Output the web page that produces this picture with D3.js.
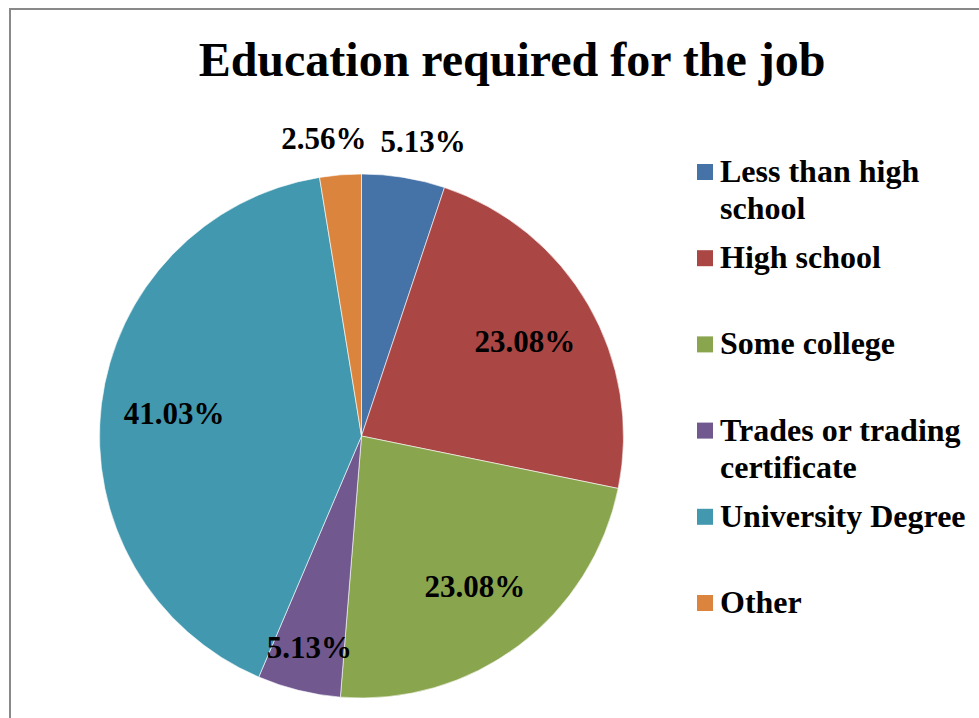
<!DOCTYPE html>
<html>
<head>
<meta charset="utf-8">
<script src="https://cdn.jsdelivr.net/npm/d3@7"></script>
<style>
  html, body { margin: 0; padding: 0; background: #fff; }
  svg { display: block; }
  text { font-family: "Liberation Serif", "Times New Roman", serif; font-weight: bold; fill: #000; }
</style>
</head>
<body>
<svg id="chart" width="979" height="718"></svg>
<script>
// Education required for the job — share of responses per category
const categories = [
  "Less than high school",
  "High school",
  "Some college",
  "Trades or trading certificate",
  "University Degree",
  "Other"
];
const shares = [5.13, 23.08, 23.08, 5.13, 41.03, 2.56];
const sliceColors = ["#4572A7", "#AA4643", "#89A54E", "#71588F", "#4198AF", "#DB843D"];
const chartTitle = "Education required for the job";

const W = 979, H = 718;
const svg = d3.select("#chart");

// Chart area frame (runs off the right and bottom of the view)
svg.append("rect")
  .attr("x", 10).attr("y", 9)
  .attr("width", W + 20).attr("height", H + 20)
  .attr("fill", "#fff")
  .attr("stroke", "#898989")
  .attr("stroke-width", 2);

// Title
svg.append("text")
  .attr("x", 512).attr("y", 76)
  .attr("text-anchor", "middle")
  .style("font-size", "48px")
  .text(chartTitle);

// Pie
const cx = 361.5, cy = 436, radius = 262;
const color = d3.scaleOrdinal().domain(categories).range(sliceColors);
const rows = categories.map((c, i) => ({ category: c, value: shares[i] }));

const pie = d3.pie().sort(null).value(d => d.value).startAngle(0).endAngle(2 * Math.PI);
const arcs = pie(rows);
const arc = d3.arc().innerRadius(0).outerRadius(radius);

const g = svg.append("g").attr("transform", `translate(${cx},${cy})`);

g.selectAll("path.slice")
  .data(arcs)
  .join("path")
  .attr("class", "slice")
  .attr("d", arc)
  .attr("fill", d => color(d.data.category))
  .attr("stroke", "#fff")
  .attr("stroke-opacity", 0.6)
  .attr("stroke-width", 1);

// Best-fit data labels: large slices inside, small upper slices outside,
// small lower slices near the inner edge of the rim
function isOutside(d) {
  const mid = (d.startAngle + d.endAngle) / 2;
  return d.data.value < 10 && Math.cos(mid) > 0;
}
function labelRadius(d) {
  if (d.data.value >= 10) return radius * 0.72;
  return isOutside(d) ? radius * 1.14 : radius * 0.83;
}
const fmt = v => v.toFixed(2) + "%";

const labels = g.selectAll("text.value")
  .data(arcs)
  .join("text")
  .attr("class", "value")
  .attr("text-anchor", "middle")
  .attr("dominant-baseline", "central")
  .style("font-size", "31px")
  .text(d => fmt(d.data.value))
  .each(function(d) {
    const r = labelRadius(d);
    const [x, y] = d3.arc().innerRadius(r).outerRadius(r).centroid(d);
    d.lx = x; d.ly = y;
    d.lw = this.getComputedTextLength();
  });

// Spread neighbouring outside labels apart horizontally so they don't collide
const outer = arcs.filter(isOutside).sort((a, b) => a.lx - b.lx);
const gap = 14;
for (let pass = 0; pass < 10; pass++) {
  for (let i = 1; i < outer.length; i++) {
    const a = outer[i - 1], b = outer[i];
    const need = (a.lw + b.lw) / 2 + gap - (b.lx - a.lx);
    if (need > 0) { a.lx -= need / 2; b.lx += need / 2; }
  }
}

labels.attr("transform", d => `translate(${d.lx},${d.ly})`);

// Legend
const legendY = d3.scalePoint().domain(categories).range([172, 603]);
const legend = svg.append("g");
const items = legend.selectAll("g.item")
  .data(categories)
  .join("g")
  .attr("class", "item")
  .attr("transform", d => `translate(697,${legendY(d)})`);

items.append("rect")
  .attr("x", 0).attr("y", -8)
  .attr("width", 16).attr("height", 16)
  .attr("fill", d => color(d));

const maxTextWidth = 252, lineGap = 37;
items.each(function(d) {
  const t = d3.select(this).append("text")
    .attr("x", 23).attr("y", 10)
    .style("font-size", "32px");
  const words = d.split(" ");
  let line = [];
  let tspan = t.append("tspan").attr("x", 23).attr("dy", 0);
  words.forEach(w => {
    line.push(w);
    tspan.text(line.join(" "));
    if (tspan.node().getComputedTextLength() > maxTextWidth && line.length > 1) {
      line.pop();
      tspan.text(line.join(" "));
      line = [w];
      tspan = t.append("tspan").attr("x", 23).attr("dy", lineGap).text(w);
    }
  });
});
</script>
</body>
</html>
